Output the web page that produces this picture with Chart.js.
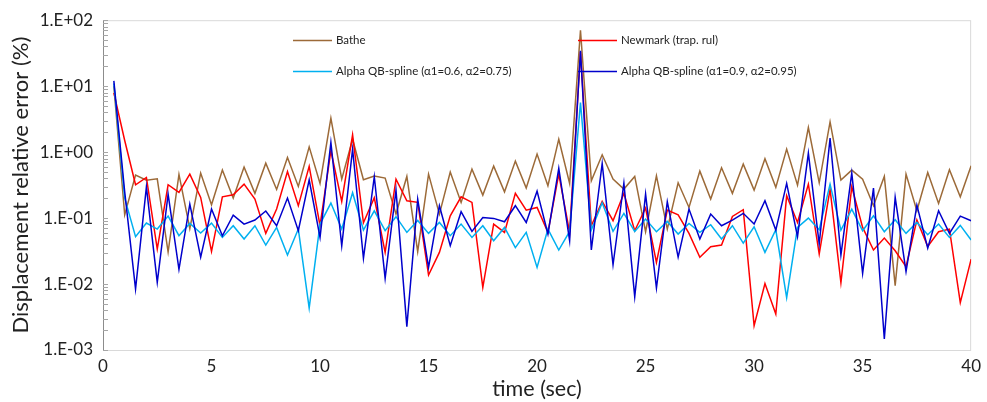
<!DOCTYPE html>
<html>
<head>
<meta charset="utf-8">
<script src="https://cdn.jsdelivr.net/npm/chart.js@4.4.0/dist/chart.umd.min.js"></script>
<style>
  html, body { margin: 0; padding: 0; background: #fff; }
  #errChart { display: block; }
</style>
</head>
<body>
<canvas id="errChart" width="987" height="402"></canvas>
<script>
// time steps (sec)
const times = [
  0.5, 1, 1.5, 2, 2.5, 3, 3.5, 4, 4.5, 5,
  5.5, 6, 6.5, 7, 7.5, 8, 8.5, 9, 9.5, 10,
  10.5, 11, 11.5, 12, 12.5, 13, 13.5, 14, 14.5, 15,
  15.5, 16, 16.5, 17, 17.5, 18, 18.5, 19, 19.5, 20,
  20.5, 21, 21.5, 22, 22.5, 23, 23.5, 24, 24.5, 25,
  25.5, 26, 26.5, 27, 27.5, 28, 28.5, 29, 29.5, 30,
  30.5, 31, 31.5, 32, 32.5, 33, 33.5, 34, 34.5, 35,
  35.5, 36, 36.5, 37, 37.5, 38, 38.5, 39, 39.5, 40
];

// displacement relative error (%) per method
const bathe = [
  10, 0.112, 0.449, 0.376, 0.394, 0.0305, 0.459, 0.0689, 0.481, 0.159,
  0.534, 0.201, 0.593, 0.237, 0.681, 0.272, 0.830, 0.302, 1.20, 0.335,
  3.27, 0.390, 1.57, 0.381, 0.433, 0.404, 0.115, 0.428, 0.0309, 0.464,
  0.115, 0.498, 0.173, 0.553, 0.223, 0.614, 0.250, 0.731, 0.285, 0.933,
  0.309, 1.57, 0.335, 70.5, 0.368, 0.911, 0.390, 0.275, 0.428, 0.0621,
  0.438, 0.0681, 0.343, 0.145, 0.515, 0.194, 0.579, 0.237, 0.658, 0.265,
  0.792, 0.292, 1.11, 0.316, 2.36, 0.343, 2.88, 0.376, 0.534, 0.390,
  0.154, 0.428, 0.00944, 0.464, 0.129, 0.492, 0.167, 0.540, 0.210, 0.621
];
const newmark = [
  7.9, 1.5, 0.320, 0.413, 0.0339, 0.320, 0.245, 0.464, 0.206, 0.0313,
  0.210, 0.226, 0.327, 0.194, 0.0586, 0.137, 0.509, 0.154, 0.607, 0.0766,
  1.05, 0.179, 1.83, 0.0849, 0.203, 0.0302, 0.390, 0.183, 0.173, 0.0137,
  0.0302, 0.108, 0.210, 0.173, 0.00890, 0.0811, 0.0607, 0.237, 0.132, 0.145,
  0.0607, 0.464, 0.0607, 33, 0.0766, 0.179, 0.0912, 0.237, 0.0643, 0.142,
  0.0213, 0.132, 0.112, 0.0586, 0.0254, 0.0368, 0.0390, 0.106, 0.134, 0.00234,
  0.0102, 0.00351, 0.218, 0.0859, 0.327, 0.0285, 0.275, 0.0105, 0.298, 0.0722,
  0.0328, 0.0497, 0.0320, 0.0183, 0.0933, 0.0372, 0.0621, 0.0681, 0.00521, 0.0239
];
const alphaLow = [
  11, 0.2, 0.0521, 0.0840, 0.0681, 0.107, 0.0540, 0.0830, 0.0593, 0.0840,
  0.0509, 0.0766, 0.0481, 0.0766, 0.0390, 0.0722, 0.0275, 0.0681, 0.00433, 0.0811,
  0.169, 0.0681, 0.242, 0.0658, 0.129, 0.0643, 0.105, 0.0607, 0.0922, 0.0586,
  0.0859, 0.0540, 0.0811, 0.0509, 0.0766, 0.0454, 0.0722, 0.0356, 0.0607, 0.0179,
  0.0681, 0.0328, 0.0628, 5.65, 0.0658, 0.171, 0.0628, 0.118, 0.0628, 0.0966,
  0.0621, 0.0890, 0.0573, 0.0830, 0.0607, 0.0792, 0.0481, 0.0766, 0.0418, 0.0739,
  0.0302, 0.0665, 0.00621, 0.0722, 0.100, 0.0665, 0.327, 0.0658, 0.137, 0.0643,
  0.108, 0.0621, 0.0944, 0.0586, 0.0859, 0.0559, 0.0811, 0.0509, 0.0774, 0.0465
];
const alphaHigh = [
  12, 0.25, 0.00840, 0.298, 0.0106, 0.231, 0.0167, 0.163, 0.0256, 0.137,
  0.0540, 0.111, 0.0811, 0.0933, 0.128, 0.0766, 0.201, 0.0643, 0.381, 0.0509,
  1.40, 0.0381, 1.11, 0.0245, 0.423, 0.0122, 0.265, 0.00226, 0.194, 0.0179,
  0.154, 0.0381, 0.125, 0.0628, 0.102, 0.0989, 0.0879, 0.154, 0.0859, 0.256,
  0.0573, 0.566, 0.0454, 34.3, 0.0328, 0.674, 0.0196, 0.339, 0.00643, 0.231,
  0.00869, 0.177, 0.0256, 0.137, 0.0481, 0.115, 0.0766, 0.0933, 0.118, 0.0811,
  0.183, 0.0658, 0.335, 0.0521, 0.966, 0.0404, 1.63, 0.0275, 0.481, 0.0145,
  0.285, 0.00147, 0.206, 0.0154, 0.157, 0.0351, 0.129, 0.0586, 0.107, 0.0912
];

const yTicks = [0.001, 0.01, 0.1, 1, 10, 100];

const FONT = "Lato, 'Open Sans', sans-serif";
const TEXT = "#222";

function series(values) {
  return values.map((v, i) => ({ x: times[i], y: v }));
}

// 1.E+02 style labels
function sciLabel(v) {
  const e = Math.round(Math.log10(v));
  const s = e < 0 ? "-" : "+";
  return "1.E" + s + String(Math.abs(e)).padStart(2, "0");
}

// frame, inward log ticks and the two-column legend
const decor = {
  id: "decor",
  beforeDatasetsDraw(chart) {
    const { ctx, chartArea: a, scales } = chart;
    ctx.save();
    ctx.lineWidth = 1;
    ctx.strokeStyle = "#d9d9d9";
    ctx.strokeRect(a.left + 0.5, a.top + 0.5, a.right - a.left - 1, a.bottom - a.top);
    ctx.strokeStyle = "#8c8c8c";
    ctx.beginPath();
    ctx.moveTo(a.left + 0.5, a.top);
    ctx.lineTo(a.left + 0.5, a.bottom + 0.5);
    ctx.stroke();
    ctx.strokeStyle = "#a6a6a6";
    ctx.beginPath();
    for (let k = -3; k <= 1; k++) {
      for (let m = 1; m <= 9; m++) {
        const y = Math.round(scales.y.getPixelForValue(m * Math.pow(10, k))) + 0.5;
        ctx.moveTo(a.left, y);
        ctx.lineTo(a.left + 5, y);
      }
    }
    const yTop = Math.round(scales.y.getPixelForValue(100)) + 0.5;
    ctx.moveTo(a.left, yTop);
    ctx.lineTo(a.left + 5, yTop);
    ctx.stroke();
    ctx.restore();
  },
  afterDatasetsDraw(chart) {
    const { ctx } = chart;
    const ds = chart.data.datasets;
    const slots = [
      { i: 0, x: 293, y: 40 },
      { i: 1, x: 578, y: 40 },
      { i: 2, x: 293, y: 71 },
      { i: 3, x: 578, y: 71 }
    ];
    ctx.save();
    ctx.font = "11.5px " + FONT;
    ctx.textBaseline = "middle";
    ctx.fillStyle = TEXT;
    slots.forEach(s => {
      const d = ds[s.i];
      ctx.strokeStyle = d.borderColor;
      ctx.lineWidth = 1.5;
      ctx.beginPath();
      ctx.moveTo(s.x, s.y + 0.5);
      ctx.lineTo(s.x + 39, s.y + 0.5);
      ctx.stroke();
      ctx.fillText(d.label, s.x + 43, s.y);
    });
    ctx.restore();
  }
};

const ctx = document.getElementById("errChart");

new Chart(ctx, {
  type: "line",
  data: {
    datasets: [
      { label: "Bathe", data: series(bathe), borderColor: "#9c6a38", order: 3 },
      { label: "Newmark (trap. rul)", data: series(newmark), borderColor: "#ff0000", order: 2 },
      { label: "Alpha QB-spline (\u03b11=0.6, \u03b12=0.75)", data: series(alphaLow), borderColor: "#00b0f0", order: 1 },
      { label: "Alpha QB-spline (\u03b11=0.9, \u03b12=0.95)", data: series(alphaHigh), borderColor: "#0000cc", order: 0 }
    ]
  },
  options: {
    responsive: false,
    animation: false,
    devicePixelRatio: 1,
    layout: { padding: { top: 19, right: 14, left: 0, bottom: 0 } },
    elements: {
      line: { borderWidth: 1.5, tension: 0, fill: false },
      point: { radius: 0 }
    },
    plugins: {
      legend: { display: false },
      tooltip: { enabled: false }
    },
    scales: {
      x: {
        type: "linear",
        min: 0,
        max: 40,
        grid: { display: false, drawTicks: false },
        border: { display: false },
        ticks: { stepSize: 5, padding: 6, color: TEXT, font: { family: FONT, size: 17 } },
        title: {
          display: true,
          text: "time (sec)",
          color: TEXT,
          font: { family: FONT, size: 21.5 },
          padding: { top: 0, bottom: 0 }
        },
        afterFit(scale) { scale.height = 52; }
      },
      y: {
        type: "logarithmic",
        min: 0.001,
        max: 100,
        grid: { display: false, drawTicks: false },
        border: { display: false },
        afterBuildTicks(scale) {
          scale.ticks = yTicks.map(v => ({ value: v, major: true }));
        },
        ticks: {
          padding: 10,
          color: TEXT,
          font: { family: FONT, size: 17 },
          callback: v => sciLabel(v)
        },
        title: {
          display: true,
          text: "Displacement relative error (%)",
          color: TEXT,
          font: { family: FONT, size: 22 },
          padding: { top: 8, bottom: 0 }
        },
        afterFit(scale) { scale.width = 103; }
      }
    }
  },
  plugins: [decor]
});
</script>
</body>
</html>
